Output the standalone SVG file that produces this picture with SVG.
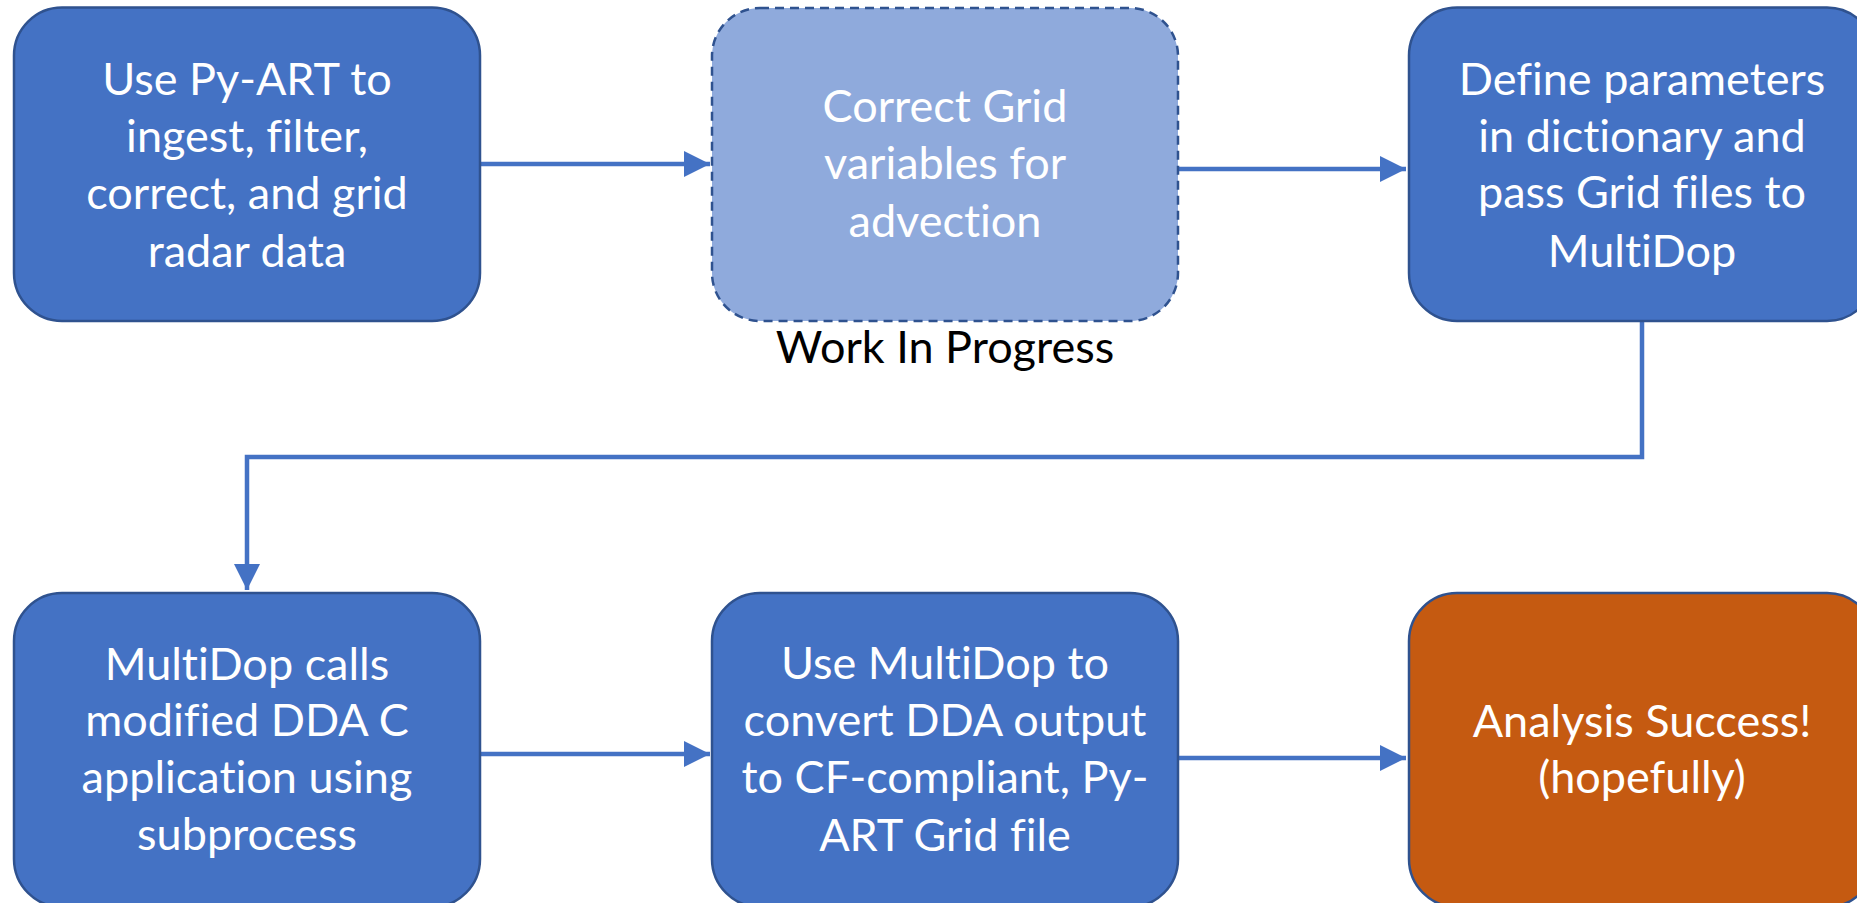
<svg xmlns="http://www.w3.org/2000/svg" width="1857" height="903" viewBox="0 0 1857 903">
<style>
.box{fill:#4472C4;stroke:#2F528F;stroke-width:2.5}
.wip{fill:#8FAADC;stroke:#2F528F;stroke-width:2.5;stroke-dasharray:9 6}
.done{fill:#C55A11;stroke:#2F528F;stroke-width:2.5}
.t{font-family:Lato,"Open Sans",sans-serif;font-size:45px;fill:#FFFFFF;text-anchor:middle;font-variant-ligatures:none;font-feature-settings:"liga" 0,"clig" 0,"dlig" 0,"calt" 0}
.lbl{font-family:Lato,"Open Sans",sans-serif;font-size:45px;fill:#000000;text-anchor:middle;font-variant-ligatures:none;font-feature-settings:"liga" 0,"clig" 0,"dlig" 0,"calt" 0}
.c{fill:none;stroke:#4472C4;stroke-width:4.5}
</style>
<defs>
<marker id="arr" markerUnits="userSpaceOnUse" markerWidth="28" markerHeight="26" refX="26" refY="13" orient="auto">
<path d="M0,0 L26,13 L0,26 Z" fill="#4472C4"/>
</marker>
</defs>
<rect width="1857" height="903" fill="#FFFFFF"/>
<g id="connectors">
<path class="c" d="M480,164 H710" marker-end="url(#arr)"/>
<path class="c" d="M1178,169 H1406" marker-end="url(#arr)"/>
<path class="c" d="M1642,321 V457 H247 V590" marker-end="url(#arr)"/>
<path class="c" d="M480,754 H710" marker-end="url(#arr)"/>
<path class="c" d="M1178,758 H1406" marker-end="url(#arr)"/>
</g>
<g id="n1">
<rect class="box" x="14" y="7.5" width="466" height="313.5" rx="48" ry="48"/>
<text class="t" x="247" y="95">Use Py-ART to</text>
<text class="t" x="247" y="152">ingest, filter,</text>
<text class="t" x="247" y="209">correct, and grid</text>
<text class="t" x="247" y="267">radar data</text>
</g>
<g id="n2">
<rect class="wip" x="712" y="8" width="466" height="313" rx="48" ry="48"/>
<text class="t" x="945" y="122">Correct Grid</text>
<text class="t" x="945" y="179">variables for</text>
<text class="t" x="945" y="237">advection</text>
<text class="lbl" x="945" y="363">Work In Progress</text>
</g>
<g id="n3">
<rect class="box" x="1409" y="7.5" width="466" height="313.5" rx="48" ry="48"/>
<text class="t" x="1642" y="95">Define parameters</text>
<text class="t" x="1642" y="152">in dictionary and</text>
<text class="t" x="1642" y="208">pass Grid files to</text>
<text class="t" x="1642" y="267">MultiDop</text>
</g>
<g id="n4">
<rect class="box" x="14" y="593" width="466" height="314" rx="48" ry="48"/>
<text class="t" x="247" y="680">MultiDop calls</text>
<text class="t" x="247" y="736">modified DDA C</text>
<text class="t" x="247" y="793">application using</text>
<text class="t" x="247" y="850">subprocess</text>
</g>
<g id="n5">
<rect class="box" x="712" y="593" width="466" height="314" rx="48" ry="48"/>
<text class="t" x="945" y="679">Use MultiDop to</text>
<text class="t" x="945" y="736">convert DDA output</text>
<text class="t" x="945" y="793">to CF-compliant, Py-</text>
<text class="t" x="945" y="851">ART Grid file</text>
</g>
<g id="n6">
<rect class="done" x="1409" y="593" width="466" height="314" rx="48" ry="48"/>
<text class="t" x="1642" y="737">Analysis Success!</text>
<text class="t" x="1642" y="793">(hopefully)</text>
</g>
</svg>
